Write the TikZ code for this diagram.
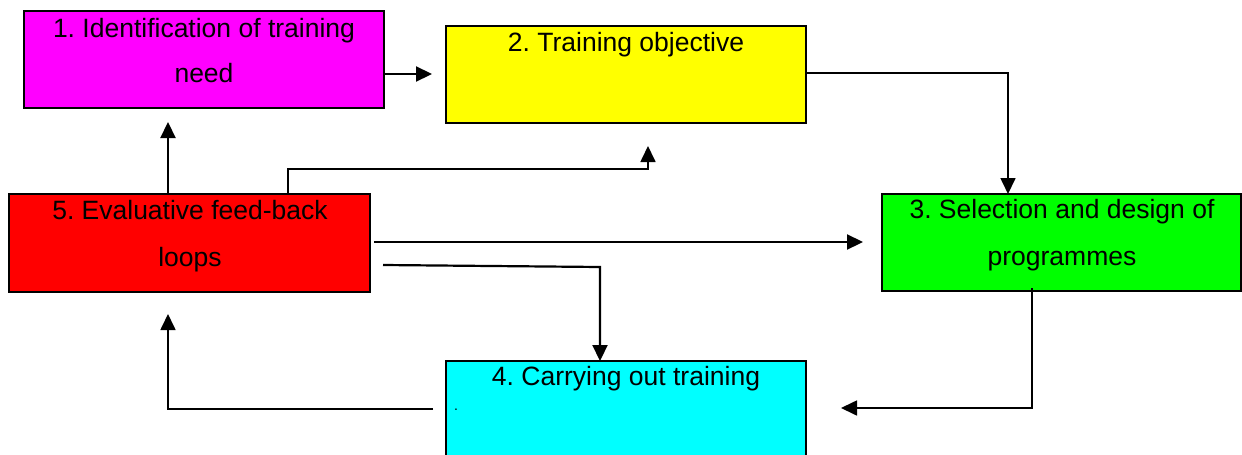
\documentclass[tikz,border=0pt]{standalone}
\usepackage{fontspec}
\setmainfont{Liberation Sans}
\frenchspacing
\usetikzlibrary{arrows.meta}
\definecolor{cmag}{RGB}{255,0,255}
\definecolor{cyel}{RGB}{255,255,0}
\definecolor{cgrn}{RGB}{0,255,0}
\definecolor{ccyn}{RGB}{0,255,255}
\definecolor{cred}{RGB}{255,0,0}
\begin{document}
\begin{tikzpicture}[x=1pt,y=-1pt,
  box/.style={draw=black,line width=2.6pt,anchor=north west,inner sep=0pt,outer sep=0pt,minimum width=360pt,minimum height=97pt},
  lbl/.style={anchor=base,inner sep=0pt,font=\fontsize{26.5}{30}\selectfont\frenchspacing},
  conn/.style={line width=2.2pt,-{Triangle[length=16pt,width=15pt]}},
  thin/.style={line width=1.7pt,-{Triangle[length=16pt,width=15pt]}}]
\useasboundingbox (0,0) rectangle (1242,455);
\clip (0,0) rectangle (1242,455);
% boxes
\node[box,fill=cmag] (b1) at (24,11) {};
\node[box,fill=cyel] (b2) at (446,26) {};
\node[box,fill=cgrn,minimum width=359pt] (b3) at (882,194) {};
\node[box,fill=ccyn,minimum height=120pt] (b4) at (446,361) {};
\node[box,fill=cred,minimum width=361pt,minimum height=98pt] (b5) at (9,194) {};
% labels
\node[lbl] (t1a) at (204,37) {1. Identification of training};
\node[lbl] (t1b) at (204,82) {need};
\node[lbl] (t2) at (626,51) {2. Training objective};
\node[lbl] (t3a) at (1062,218) {3. Selection and design of};
\node[lbl] (t3b) at (1062,265) {programmes};
\node[lbl] (t4) at (626,385) {4. Carrying out training};
\node[lbl,font=\fontsize{14}{16}\selectfont] (t4dot) at (456,410) {.};
\node[lbl] (t5a) at (190,219) {5. Evaluative feed-back};
\node[lbl] (t5b) at (190,266) {loops};
% connector end points
\coordinate (p12s) at (384,74);
\coordinate (p12e) at (432,74);
\coordinate (p51s) at (168,194);
\coordinate (p51e) at (168,122);
\coordinate (p52s) at (288,194);
\coordinate (p52a) at (288,169);
\coordinate (p52b) at (648,169);
\coordinate (p52e) at (648,146);
\coordinate (p53s) at (374,242);
\coordinate (p53e) at (863,242);
\coordinate (p54s) at (383,265);
\coordinate (p54a) at (600,267);
\coordinate (p54e) at (600,361);
\coordinate (p23s) at (806,73);
\coordinate (p23a) at (1008,73);
\coordinate (p23e) at (1008,194);
\coordinate (p34s) at (1032,288);
\coordinate (p34a) at (1032,408);
\coordinate (p34e) at (841,408);
\coordinate (p45s) at (433,409);
\coordinate (p45a) at (168,409);
\coordinate (p45e) at (168,314);
% connectors
\draw[conn] (p12s) -- (p12e);
\draw[conn] (p51s) -- (p51e);
\draw[thin] (p52s) -- (p52a) -- (p52b) -- (p52e);
\draw[conn] (p53s) -- (p53e);
\draw[conn] (p54s) -- (p54a) -- (p54e);
\draw[thin] (p23s) -- (p23a) -- (p23e);
\draw[thin] (p34s) -- (p34a) -- (p34e);
\draw[thin] (p45s) -- (p45a) -- (p45e);
\end{tikzpicture}
\end{document}
